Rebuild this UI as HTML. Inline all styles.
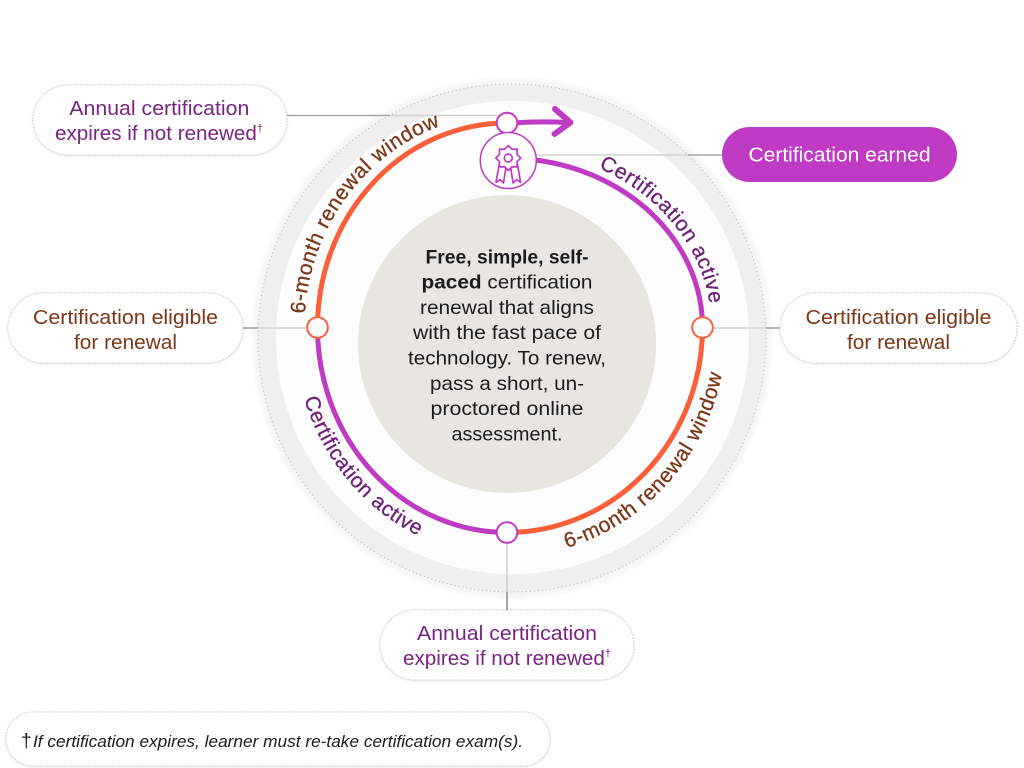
<!DOCTYPE html>
<html>
<head>
<meta charset="utf-8">
<style>
  html,body{margin:0;padding:0;background:#ffffff;}
  body{width:1024px;height:768px;overflow:hidden;}
  svg{display:block;font-family:"Liberation Sans","DejaVu Sans",sans-serif;}
</style>
</head>
<body>
<svg width="1024" height="768" viewBox="0 0 1024 768" xmlns="http://www.w3.org/2000/svg">
  <defs>
    <filter id="halo" x="-10%" y="-10%" width="120%" height="120%">
      <feGaussianBlur stdDeviation="3"/>
    </filter>
    <filter id="sh" x="-10%" y="-30%" width="120%" height="160%">
      <feDropShadow dx="0" dy="0.5" stdDeviation="1.3" flood-color="#000" flood-opacity="0.13"/>
    </filter>
    <path id="pUL" d="M 305.27 346.11 A 202.5 213.5 0 0 1 471.84 117.24"/>
    <path id="pUR" d="M 576.94 159.95 A 204.5 178.3 0 0 1 711.5 327.5"/>
    <path id="pLR" d="M 545.12 553.02 A 219.5 229 0 0 0 725.30 351.44"/>
    <path id="pLL" d="M 298.16 375.11 A 213.5 229 0 0 0 441.02 545.29"/>
  </defs>

  <!-- outer ring -->
  <circle cx="512" cy="338" r="259" fill="#f3f3f3" filter="url(#halo)"/>
  <circle cx="512" cy="338" r="254" fill="#efefef" stroke="#9c9c9c" stroke-width="0.8" stroke-dasharray="1 3" stroke-opacity="0.8"/>
  <circle cx="512.5" cy="337.5" r="236.5" fill="#fdfdfd"/>

  <!-- beige disc -->
  <circle cx="507" cy="344" r="149" fill="#e8e6e1"/>

  <!-- connector lines -->
  <g stroke-width="1.6" fill="none">
    <line x1="287" y1="115.5" x2="390" y2="115.5" stroke="#a9a9a9"/>
    <line x1="390" y1="115.5" x2="499" y2="115.5" stroke="#d2d2d2"/>
    <line x1="536" y1="155" x2="688" y2="155" stroke="#d4d4d4"/>
    <line x1="688" y1="155" x2="722" y2="155" stroke="#a9a9a9"/>
    <line x1="243" y1="328" x2="258" y2="328" stroke="#a0a0a0"/>
    <line x1="258" y1="328" x2="307" y2="328" stroke="#d2d2d2"/>
    <line x1="713" y1="328" x2="766" y2="328" stroke="#d2d2d2"/>
    <line x1="766" y1="328" x2="780" y2="328" stroke="#a0a0a0"/>
    <line x1="507" y1="543" x2="507" y2="592" stroke="#d2d2d2"/>
    <line x1="507" y1="592" x2="507" y2="612" stroke="#8f8f8f"/>
  </g>

  <!-- main ring arcs -->
  <g fill="none" stroke-width="5">
    <path d="M 317.5 327.5 A 189.5 204.5 0 0 1 507 123" stroke="#fa5f3a"/>
    <path d="M 702.5 327.5 A 195.5 205 0 0 1 507 532.5" stroke="#fa5f3a"/>
    <path d="M 507 532.5 A 189.5 205 0 0 1 317.5 327.5" stroke="#c03bc4"/>
    <path d="M 535.5 160 A 195.5 169.3 0 0 1 702.5 327.5" stroke="#c03bc4"/>
    <path d="M 512 123 Q 540 121 568 122.5" stroke="#c03bc4"/>
    <polyline points="555,109 570.5,122.5 554.5,134" stroke="#c03bc4" stroke-width="6" stroke-linecap="round" stroke-linejoin="round"/>
  </g>

  <!-- nodes -->
  <g fill="#ffffff" stroke-width="2">
    <circle cx="507" cy="123" r="10.3" stroke="#c03bc4"/>
    <circle cx="317.5" cy="327.5" r="10.3" stroke="#fa5f3a"/>
    <circle cx="702.5" cy="327.5" r="10.3" stroke="#fa5f3a"/>
    <circle cx="507" cy="532.5" r="10.3" stroke="#c03bc4"/>
  </g>

  <!-- certificate icon -->
  <circle cx="508.3" cy="160.5" r="28" fill="#ffffff" stroke="#c03bc4" stroke-width="1.5"/>
  <g fill="#ffffff" stroke="#c03bc4" stroke-width="1.7" stroke-linejoin="round">
    <polygon points="499,165 506,167 503.5,183 500,179.5 496,182.5"/>
    <polygon points="517.6,165 510.6,167 513.1,183 516.6,179.5 520.6,182.5"/>
    <polygon points="508.3,145.5 511.94,149.22 517.14,149.16 517.08,154.36 520.8,158 517.08,161.64 517.14,166.84 511.94,166.78 508.3,170.5 504.66,166.78 499.46,166.84 499.52,161.64 495.8,158 499.52,154.36 499.46,149.16 504.66,149.22"/>
    <circle cx="508.3" cy="158" r="4"/>
  </g>

  <!-- arc labels -->
  <g font-size="21" letter-spacing="0.6" stroke-width="0.3">
    <text fill="#7a3816" stroke="#7a3816"><textPath href="#pUL" startOffset="50%" text-anchor="middle">6-month renewal window</textPath></text>
    <text fill="#6e2178" stroke="#6e2178"><textPath href="#pUR" startOffset="50%" text-anchor="middle">Certification active</textPath></text>
    <text fill="#7a3816" stroke="#7a3816"><textPath href="#pLR" startOffset="50%" text-anchor="middle">6-month renewal window</textPath></text>
    <text fill="#6e2178" stroke="#6e2178"><textPath href="#pLL" startOffset="50%" text-anchor="middle">Certification active</textPath></text>
  </g>

  <!-- center text -->
  <g font-size="19.5" fill="#1b1b1b" text-anchor="middle">
    <text x="507" y="263.3" font-weight="bold" textLength="163" lengthAdjust="spacingAndGlyphs">Free, simple, self-</text>
    <text x="507" y="288.6" textLength="171" lengthAdjust="spacingAndGlyphs"><tspan font-weight="bold">paced</tspan> certification</text>
    <text x="507" y="313.9" textLength="174" lengthAdjust="spacingAndGlyphs">renewal that aligns</text>
    <text x="507" y="339.2" textLength="188" lengthAdjust="spacingAndGlyphs">with the fast pace of</text>
    <text x="507" y="364.5" textLength="198" lengthAdjust="spacingAndGlyphs">technology. To renew,</text>
    <text x="507" y="389.8" textLength="154" lengthAdjust="spacingAndGlyphs">pass a short, un-</text>
    <text x="507" y="415.1" textLength="153" lengthAdjust="spacingAndGlyphs">proctored online</text>
    <text x="507" y="440.4" textLength="111" lengthAdjust="spacingAndGlyphs">assessment.</text>
  </g>

  <!-- bubbles -->
  <g fill="#fefefe" stroke="#cfcfcf" stroke-width="1" stroke-dasharray="1.5 1.5" filter="url(#sh)">
    <rect x="33" y="85" width="254" height="70" rx="35"/>
    <rect x="8" y="293" width="235" height="70" rx="35"/>
    <rect x="780" y="293" width="237" height="70" rx="35"/>
    <rect x="380" y="610" width="254" height="70" rx="35"/>
    <rect x="6" y="712" width="544" height="54" rx="27"/>
  </g>
  <rect x="722" y="127" width="235" height="55" rx="27.5" fill="#c03bc4"/>

  <!-- bubble text -->
  <g font-size="20.5" text-anchor="middle">
    <text x="159.3" y="115" fill="#7b2583" textLength="180" lengthAdjust="spacingAndGlyphs">Annual certification</text>
    <text x="159" y="140" fill="#7b2583" textLength="208" lengthAdjust="spacingAndGlyphs">expires if not renewed<tspan font-size="11" dy="-8">†</tspan></text>

    <text x="125.5" y="324" fill="#7a3816" textLength="185" lengthAdjust="spacingAndGlyphs">Certification eligible</text>
    <text x="125.5" y="349" fill="#7a3816" textLength="103" lengthAdjust="spacingAndGlyphs">for renewal</text>

    <text x="898.5" y="324" fill="#7a3816" textLength="186" lengthAdjust="spacingAndGlyphs">Certification eligible</text>
    <text x="898.5" y="349" fill="#7a3816" textLength="103" lengthAdjust="spacingAndGlyphs">for renewal</text>

    <text x="507" y="640" fill="#7b2583" textLength="180" lengthAdjust="spacingAndGlyphs">Annual certification</text>
    <text x="507" y="665" fill="#7b2583" textLength="208" lengthAdjust="spacingAndGlyphs">expires if not renewed<tspan font-size="11" dy="-8">†</tspan></text>

    <text x="839.5" y="161.5" fill="#ffffff" textLength="182" lengthAdjust="spacingAndGlyphs">Certification earned</text>
  </g>

  <!-- footer -->
  <text x="21" y="747" font-size="19" fill="#1b1b1b">†</text>
  <text x="33" y="747" font-size="17" font-style="italic" fill="#1b1b1b" textLength="490" lengthAdjust="spacingAndGlyphs">If certification expires, learner must re-take certification exam(s).</text>
</svg>
</body>
</html>
